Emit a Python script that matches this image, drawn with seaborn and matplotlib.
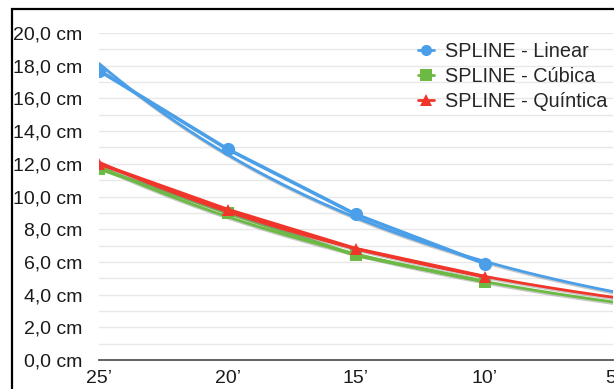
import numpy as np
import pandas as pd
import matplotlib
matplotlib.use("Agg")
import matplotlib.pyplot as plt
import matplotlib.patheffects as pe
from matplotlib.lines import Line2D
from matplotlib.patches import Rectangle
import seaborn as sns

# ---- data ----
minutes = [25, 20, 15, 10]
linear = [17.7, 12.9, 8.9, 5.9]
cubic = [11.7, 9.0, 6.4, 4.8]
quintic = [12.0, 9.2, 6.8, 5.1]
series_names = ["SPLINE - Linear", "SPLINE - Cúbica", "SPLINE - Quíntica"]
x_ticks = [25, 20, 15, 10, 5]
x_tick_labels = ["25’", "20’", "15’", "10’", "5’"]
y_ticks = [0, 2, 4, 6, 8, 10, 12, 14, 16, 18, 20]

sns.set_theme(style="white")
plt.rcParams["font.family"] = ["Liberation Sans", "DejaVu Sans"]

colors = ["#4A9FE8", "#6CBA43", "#F0362A"]
markers = ["o", "s", "^"]
msizes = [9.5, 9.0, 9.0]

fig = plt.figure(figsize=(6.14, 3.89), dpi=100)
ax = fig.add_axes([99 / 614, 29 / 389, (613 - 99) / 614, 327 / 389])

df = pd.DataFrame({"x": minutes * 3,
                   "y": linear + cubic + quintic,
                   "serie": sum([[n] * len(minutes) for n in series_names], [])})

# grid
for v in np.arange(0, 20.5, 1.0):
    if v > 0:
        ax.axhline(v, color="#e8e8e8", lw=1.0, zorder=0)

xs = np.linspace(25, 5, 200)
for i, name in enumerate(series_names):
    sub = df[df.serie == name]
    # exponential trendline fitted to the data
    b, a = np.polyfit(sub.x, np.log(sub.y), 1)
    trend = pd.DataFrame({"x": xs, "y": np.exp(a + b * xs)})
    sns.lineplot(data=trend, x="x", y="y", ax=ax, color=colors[i], lw=2.0,
                 sort=False, zorder=3 + i,
                 path_effects=[pe.SimpleLineShadow(offset=(0.6, -1.2), shadow_color="#888888", alpha=0.45),
                               pe.Normal()])
    sns.lineplot(data=sub, x="x", y="y", ax=ax, color=colors[i], lw=2.6,
                 marker=markers[i], markersize=msizes[i], markeredgewidth=0,
                 sort=False, zorder=4 + i)

ax.set_xlim(25, 5)
ax.set_ylim(0, 20)
ax.set_xticks(x_ticks)
ax.set_xticklabels(x_tick_labels)
ax.set_yticks(y_ticks)
ax.set_yticklabels([f"{v:.1f}".replace(".", ",") + " cm" for v in y_ticks])
ax.set_xlabel("")
ax.set_ylabel("")
ax.tick_params(axis="both", length=0, labelsize=14, colors="#1a1a1a")
ax.tick_params(axis="y", pad=12)
ax.tick_params(axis="x", pad=7)
for s in ["top", "right", "left"]:
    ax.spines[s].set_visible(False)
ax.spines["bottom"].set_color("#555555")
ax.spines["bottom"].set_linewidth(1.3)
ax.grid(False)

handles = [Line2D([0], [0], color=colors[i], lw=2, marker=markers[i], markersize=8,
                  markeredgewidth=0) for i in range(3)]
ax.legend(handles, series_names, loc="upper left", bbox_to_anchor=(418 / 614, 1 - 42 / 389),
          bbox_transform=fig.transFigure, frameon=False, fontsize=14.3,
          handlelength=0.8, handletextpad=0.55, labelspacing=0.30, borderpad=0, borderaxespad=0)

fig.patches.append(Rectangle((12 / 614, -0.1), 1.2, 1.1 - 9 / 389 + 0.0, transform=fig.transFigure,
                             fill=False, edgecolor="black", lw=1.6, zorder=10))

fig.savefig("out.png", dpi=100)
